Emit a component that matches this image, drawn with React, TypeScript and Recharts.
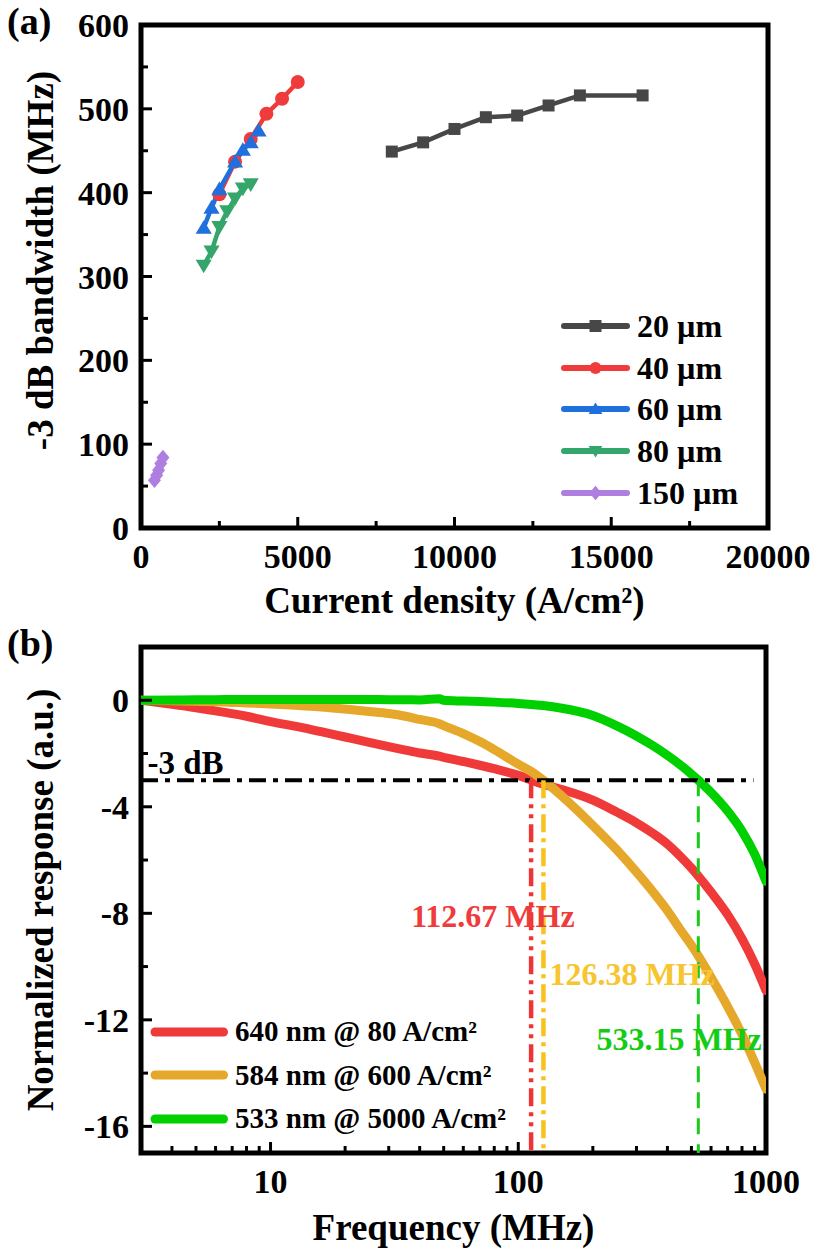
import { LineChart, Line, XAxis, YAxis, ReferenceArea, ReferenceLine, ReferenceDot, Legend, Label } from 'recharts'

const FONT = '"Liberation Serif", "Times New Roman", serif'

// (a) -3 dB bandwidth vs current density
const densityTicks = [0, 2500, 5000, 7500, 10000, 12500, 15000, 17500, 20000]
const densityLabels = [0, 5000, 10000, 15000, 20000]
const bandwidthTicks = [0, 50, 100, 150, 200, 250, 300, 350, 400, 450, 500, 550, 600]
const bandwidthLabels = [0, 100, 200, 300, 400, 500, 600]

const j20 = [8000, 9000, 10000, 11000, 12000, 13000, 14000, 16000]
const bw20 = [449, 460, 476, 490, 492, 504, 516, 516]
const j40 = [2500, 3000, 3500, 4000, 4500, 5000]
const bw40 = [398, 437, 464, 494, 512, 532]
const j60 = [2000, 2250, 2500, 3000, 3250, 3500, 3750]
const bw60 = [358, 382, 404, 437, 451, 460, 474]
const j80 = [2000, 2250, 2500, 2750, 3000, 3250, 3500]
const bw80 = [313, 330, 359, 378, 393, 405, 410]
const j150 = [430, 500, 560, 630, 700]
const bw150 = [57, 63, 69, 77, 84]

// (b) normalized response vs frequency
const freqs = [3, 4, 5, 6, 7, 8, 10, 13, 16, 20, 25, 30, 35, 40, 48, 50, 60, 70, 80, 100, 113, 126, 150, 200, 250, 300, 350, 400, 450, 500, 533, 600, 700, 800, 900, 1000]
const resp640 = [0, -0.15, -0.28, -0.4, -0.5, -0.6, -0.8, -1.0, -1.18, -1.38, -1.58, -1.74, -1.87, -1.98, -2.1, -2.14, -2.3, -2.44, -2.57, -2.82, -3.0, -3.15, -3.35, -3.75, -4.2, -4.6, -5.0, -5.4, -5.85, -6.3, -6.6, -7.2, -8.05, -8.95, -9.9, -10.9]
const resp584 = [0, -0.02, -0.04, -0.06, -0.08, -0.1, -0.14, -0.2, -0.25, -0.33, -0.42, -0.5, -0.6, -0.72, -0.88, -0.95, -1.25, -1.55, -1.85, -2.4, -2.68, -3.0, -3.6, -4.7, -5.62, -6.45, -7.2, -7.9, -8.6, -9.2, -9.6, -10.4, -11.5, -12.55, -13.6, -14.6]
const resp533 = [0, 0.01, 0.02, 0.02, 0.03, 0.03, 0.03, 0.03, 0.03, 0.03, 0.03, 0.02, 0.02, 0.01, 0.06, 0, -0.03, -0.05, -0.07, -0.12, -0.16, -0.2, -0.3, -0.57, -0.96, -1.34, -1.71, -2.07, -2.42, -2.77, -3.0, -3.46, -4.16, -4.91, -5.78, -6.8]
const cutoffs = [112.67, 126.38, 533.15]
const freqTicks = [4, 5, 6, 7, 8, 9, 10, 20, 30, 40, 50, 60, 70, 80, 90, 100, 200, 300, 400, 500, 600, 700, 800, 900, 1000]
const freqLabels = [10, 100, 1000]
const respTicks = [-16, -14, -12, -10, -8, -6, -4, -2, 0]
const respLabels = [-16, -12, -8, -4, 0]

const zip = (xs: number[], ys: number[]) => xs.map((x, i) => ({ x, y: ys[i] }))

const seriesA = [
  { name: '20 µm', color: '#474747', shape: 'square', data: zip(j20, bw20) },
  { name: '40 µm', color: '#EF3B3B', shape: 'circle', data: zip(j40, bw40) },
  { name: '60 µm', color: '#1F6FDD', shape: 'up', data: zip(j60, bw60) },
  { name: '80 µm', color: '#35A66B', shape: 'down', data: zip(j80, bw80) },
  { name: '150 µm', color: '#AE7EE0', shape: 'diamond', data: zip(j150, bw150) },
]

const seriesB = [
  { key: 'r640', name: '640 nm @ 80 A/cm²', color: '#F03A3A' },
  { key: 'r584', name: '584 nm @ 600 A/cm²', color: '#E6A82A' },
  { key: 'r533', name: '533 nm @ 5000 A/cm²', color: '#00D000' },
]

const responseData = freqs.map((f, i) => ({ f, r640: resp640[i], r584: resp584[i], r533: resp533[i] }))

function Marker({ shape, cx, cy, s, color }: { shape: string; cx: number; cy: number; s: number; color: string }) {
  const h = s / 2
  if (shape === 'square') return <rect x={cx - h} y={cy - h} width={s} height={s} fill={color} />
  if (shape === 'circle') return <circle cx={cx} cy={cy} r={h} fill={color} />
  if (shape === 'up')
    return <polygon points={`${cx},${cy - h * 1.1} ${cx + h * 1.15},${cy + h * 0.85} ${cx - h * 1.15},${cy + h * 0.85}`} fill={color} />
  if (shape === 'down')
    return <polygon points={`${cx},${cy + h * 1.1} ${cx + h * 1.15},${cy - h * 0.85} ${cx - h * 1.15},${cy - h * 0.85}`} fill={color} />
  return <polygon points={`${cx},${cy - h * 1.2} ${cx + h},${cy} ${cx},${cy + h * 1.2} ${cx - h},${cy}`} fill={color} />
}

const markerSize: Record<string, number> = { square: 12, circle: 14, up: 14, down: 14, diamond: 13 }

const textStyle = { fontFamily: FONT, fontWeight: 'bold' as const, fill: '#000' }

const bottomTick = (majors: number[]) => (props: any) => {
  const { x, y, payload } = props
  const major = majors.includes(payload.value)
  return (
    <g>
      <line x1={x} x2={x} y1={y} y2={y - (major ? 11 : 7)} stroke="#000" strokeWidth={3} />
      {major && (
        <text x={x} y={y + 40} textAnchor="middle" fontSize={34} {...textStyle}>
          {payload.value}
        </text>
      )}
    </g>
  )
}

const leftTick = (majors: number[]) => (props: any) => {
  const { x, y, payload } = props
  const major = majors.includes(payload.value)
  return (
    <g>
      <line x1={x} x2={x + (major ? 11 : 7)} y1={y} y2={y} stroke="#000" strokeWidth={3} />
      {major && (
        <text x={x - 12} y={y + 12} textAnchor="end" fontSize={34} {...textStyle}>
          {payload.value}
        </text>
      )}
    </g>
  )
}

const xTitle = (text: string, dy: number) => (props: any) => {
  const vb = props.viewBox
  return (
    <text x={vb.x + vb.width / 2} y={vb.y + dy} textAnchor="middle" fontSize={37} {...textStyle}>
      {text}
    </text>
  )
}

const yTitle = (text: string, shift: number) => (props: any) => {
  const vb = props.viewBox
  const cy = vb.y + vb.height / 2 + shift
  return (
    <text x={53} y={cy} transform={`rotate(-90 53 ${cy})`} textAnchor="middle" fontSize={37} {...textStyle}>
      {text}
    </text>
  )
}

function LegendA() {
  return (
    <div style={{ fontFamily: FONT, fontWeight: 'bold', fontSize: 32, color: '#000' }}>
      {seriesA.map(s => (
        <div key={s.name} style={{ display: 'flex', alignItems: 'center', height: 41.8 }}>
          <svg width={78} height={20}>
            <line x1={8} x2={71} y1={10} y2={10} stroke={s.color} strokeWidth={6} strokeLinecap="round" />
            <Marker shape={s.shape} cx={39.5} cy={10} s={12} color={s.color} />
          </svg>
          <span style={{ marginLeft: 3, lineHeight: 1, whiteSpace: 'nowrap' }}>{s.name}</span>
        </div>
      ))}
    </div>
  )
}

function LegendB() {
  return (
    <div style={{ fontFamily: FONT, fontWeight: 'bold', fontSize: 29, color: '#000' }}>
      {seriesB.map(s => (
        <div key={s.key} style={{ display: 'flex', alignItems: 'center', height: 43.5 }}>
          <svg width={84} height={16}>
            <line x1={7} x2={75.5} y1={8} y2={8} stroke={s.color} strokeWidth={9} strokeLinecap="round" />
          </svg>
          <span style={{ marginLeft: 3, lineHeight: 1, whiteSpace: 'nowrap' }}>{s.name}</span>
        </div>
      ))}
    </div>
  )
}

const panelLabel = { position: 'absolute' as const, left: 7, fontFamily: FONT, fontWeight: 'bold' as const, fontSize: 38, lineHeight: 1, color: '#000' }

export default function App() {
  return (
    <div style={{ position: 'absolute', left: 0, top: 0, width: 825, height: 1256, background: '#fff' }}>
      <div style={{ position: 'absolute', left: 0, top: 0 }}>
        <LineChart width={825} height={630} margin={{ top: 25, right: 57, bottom: 0, left: 0 }}>
          <XAxis
            type="number"
            dataKey="x"
            domain={[0, 20000]}
            ticks={densityTicks}
            interval={0}
            allowDataOverflow
            height={102}
            axisLine={false}
            tickLine={false}
            tickSize={0}
            tickMargin={0}
            tick={bottomTick(densityLabels)}
          >
            <Label content={xTitle('Current density (A/cm²)', 85)} />
          </XAxis>
          <YAxis
            type="number"
            domain={[0, 600]}
            ticks={bandwidthTicks}
            interval={0}
            allowDataOverflow
            width={141}
            axisLine={false}
            tickLine={false}
            tickSize={0}
            tickMargin={0}
            tick={leftTick(bandwidthLabels)}
          >
            <Label content={yTitle('-3 dB bandwidth (MHz)', -16)} />
          </YAxis>
          {seriesA.map(s => (
            <Line
              key={s.name}
              data={s.data}
              dataKey="y"
              name={s.name}
              stroke={s.color}
              strokeWidth={4.5}
              strokeLinecap="round"
              isAnimationActive={false}
              activeDot={false}
              dot={(p: any) => (
                <Marker key={`${s.name}-${p.index}`} shape={s.shape} cx={p.cx} cy={p.cy} s={markerSize[s.shape]} color={s.color} />
              )}
            />
          ))}
          <ReferenceArea x1={0} x2={20000} y1={0} y2={600} fill="none" stroke="#000" strokeWidth={5} />
          <Legend
            layout="vertical"
            align="center"
            verticalAlign="middle"
            wrapperStyle={{ left: 556, top: 305, width: 240 }}
            content={() => <LegendA />}
          />
        </LineChart>
      </div>

      <div style={{ position: 'absolute', left: 0, top: 620 }}>
        <LineChart width={825} height={636} data={responseData} margin={{ top: 27, right: 59, bottom: 0, left: 0 }}>
          <XAxis
            type="number"
            dataKey="f"
            scale="log"
            domain={[3, 1000]}
            ticks={freqTicks}
            interval={0}
            allowDataOverflow
            height={103}
            axisLine={false}
            tickLine={false}
            tickSize={0}
            tickMargin={0}
            tick={bottomTick(freqLabels)}
          >
            <Label content={xTitle('Frequency (MHz)', 87)} />
          </XAxis>
          <YAxis
            type="number"
            domain={[-17, 2]}
            ticks={respTicks}
            interval={0}
            allowDataOverflow
            width={141}
            axisLine={false}
            tickLine={false}
            tickSize={0}
            tickMargin={0}
            tick={leftTick(respLabels)}
          >
            <Label content={yTitle('Normalized response (a.u.)', 0)} />
          </YAxis>
          {seriesB.map(s => (
            <Line
              key={s.key}
              type="monotone"
              dataKey={s.key}
              name={s.name}
              stroke={s.color}
              strokeWidth={9}
              strokeLinecap="round"
              dot={false}
              activeDot={false}
              isAnimationActive={false}
            />
          ))}
          <ReferenceLine segment={[{ x: 3, y: -3 }, { x: 890, y: -3 }]} stroke="#000" strokeWidth={4} strokeDasharray="17 7 5 7" />
          <ReferenceLine segment={[{ x: cutoffs[0], y: -3 }, { x: cutoffs[0], y: -17 }]} stroke="#EE3535" strokeWidth={4.5} strokeDasharray="18 6 4 6 4 6" />
          <ReferenceLine segment={[{ x: cutoffs[1], y: -3 }, { x: cutoffs[1], y: -17 }]} stroke="#F7C21E" strokeWidth={4.5} strokeDasharray="18 6 4 6" />
          <ReferenceLine segment={[{ x: cutoffs[2], y: -3 }, { x: cutoffs[2], y: -17 }]} stroke="#1BCB1B" strokeWidth={3} strokeDasharray="16 10" />
          <ReferenceDot x={4.54} y={-2.32} r={0} fill="none" stroke="none"
            label={{ value: '-3 dB', position: 'center', fontSize: 33, fontWeight: 'bold', fontFamily: FONT, fill: '#000' }} />
          <ReferenceDot x={79} y={-8.08} r={0} fill="none" stroke="none"
            label={{ value: `${cutoffs[0]} MHz`, position: 'center', fontSize: 32, fontWeight: 'bold', fontFamily: FONT, fill: '#EE3B3B' }} />
          <ReferenceDot x={288} y={-10.25} r={0} fill="none" stroke="none"
            label={{ value: `${cutoffs[1]} MHz`, position: 'center', fontSize: 32, fontWeight: 'bold', fontFamily: FONT, fill: '#F7C530' }} />
          <ReferenceDot x={446} y={-12.7} r={0} fill="none" stroke="none"
            label={{ value: `${cutoffs[2]} MHz`, position: 'center', fontSize: 32, fontWeight: 'bold', fontFamily: FONT, fill: '#14CC14' }} />
          <ReferenceArea x1={3} x2={1000} y1={-17} y2={2} fill="none" stroke="#000" strokeWidth={5} />
          <Legend
            layout="vertical"
            align="center"
            verticalAlign="middle"
            wrapperStyle={{ left: 148, top: 390, width: 400 }}
            content={() => <LegendB />}
          />
        </LineChart>
      </div>

      <div style={{ ...panelLabel, top: 2 }}>(a)</div>
      <div style={{ ...panelLabel, top: 624 }}>(b)</div>
    </div>
  )
}
